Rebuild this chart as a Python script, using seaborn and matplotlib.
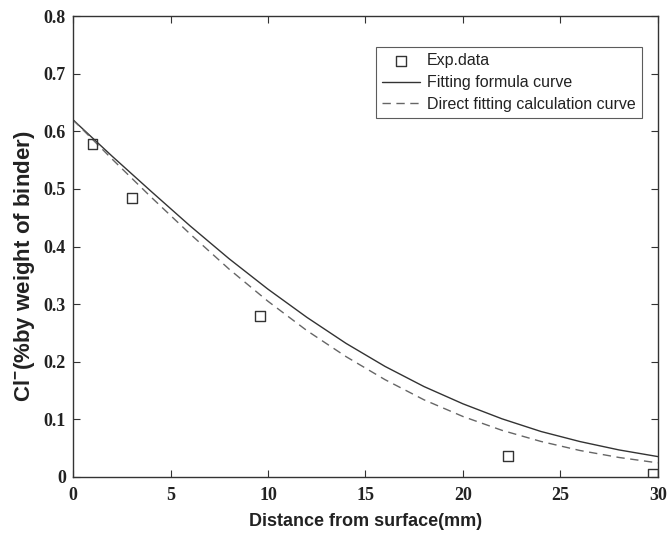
#!/usr/bin/env python3
"""Chloride profile: measured points vs two fitted curves."""

import matplotlib
matplotlib.use("Agg")
import matplotlib.pyplot as plt
import seaborn as sns

# measured chloride content
exp_x = [1.0, 3.04, 9.6, 22.3, 29.75]
exp_y = [0.578, 0.485, 0.279, 0.036, 0.005]

# curves every 2 mm
curve_x = [0, 2, 4, 6, 8, 10, 12, 14, 16, 18, 20, 22, 24, 26, 28, 30]
formula_y = [0.620, 0.557, 0.496, 0.436, 0.379, 0.326, 0.277, 0.232,
             0.192, 0.157, 0.127, 0.101, 0.079, 0.0615, 0.047, 0.0354]
direct_y = [0.620, 0.552, 0.486, 0.422, 0.361, 0.305, 0.254, 0.209,
            0.169, 0.134, 0.105, 0.081, 0.0617, 0.046, 0.0339, 0.0245]

x_ticks = [0, 5, 10, 15, 20, 25, 30]
y_ticks = [0, 0.1, 0.2, 0.3, 0.4, 0.5, 0.6, 0.7, 0.8]
y_tick_labels = ["0", "0.1", "0.2", "0.3", "0.4", "0.5", "0.6", "0.7", "0.8"]


def main() -> None:
    sns.set_style("ticks")
    plt.rcParams["font.family"] = ["Liberation Sans", "DejaVu Sans"]
    plt.rcParams["mathtext.fontset"] = "custom"
    plt.rcParams["mathtext.rm"] = "Liberation Sans:bold"
    plt.rcParams["mathtext.it"] = "Liberation Sans:bold"
    plt.rcParams["mathtext.bf"] = "Liberation Sans:bold"

    fig = plt.figure(figsize=(6.7, 5.38), dpi=100)
    ax = fig.add_axes([0.109, 0.1134, 0.873, 0.8566])

    dark = "#333333"
    sns.scatterplot(x=exp_x, y=exp_y, ax=ax, marker="s", s=50,
                    facecolor="none", edgecolor=dark, linewidth=1.0,
                    label="Exp.data", zorder=3)
    sns.lineplot(x=curve_x, y=formula_y, ax=ax, color=dark, linewidth=1.0,
                 label="Fitting formula curve")
    sns.lineplot(x=curve_x, y=direct_y, ax=ax, color="#666666", linewidth=1.0,
                 dashes=False, label="Direct fitting calculation curve")
    ax.lines[-1].set_dashes([6, 4])

    ax.set_xlim(0, 30)
    ax.set_ylim(0, 0.8)
    ax.set_xticks(x_ticks)
    ax.set_yticks(y_ticks)
    ax.set_yticklabels(y_tick_labels)
    ax.tick_params(direction="in", length=5, width=0.8, color=dark,
                   top=True, right=True, labelsize=13)
    ax.tick_params(axis="x", pad=7)
    ax.tick_params(axis="y", pad=5)
    for lab in ax.get_xticklabels() + ax.get_yticklabels():
        lab.set_fontweight("bold")
        lab.set_family(["Liberation Serif", "DejaVu Serif"])
        lab.set_color("#222222")
    for sp in ax.spines.values():
        sp.set_color(dark)
        sp.set_linewidth(1.0)

    ax.set_xlabel("Distance from surface(mm)", fontsize=13, fontweight="bold",
                  labelpad=7, color="#222222")
    ax.set_ylabel(r"Cl$^{-}$(%by weight of binder)", fontsize=16,
                  fontweight="bold", color="#222222")
    ax.yaxis.set_label_coords(-0.062, 0.458)

    leg = ax.legend(loc="upper right", bbox_to_anchor=(0.9726, 0.933),
                    borderaxespad=0, fontsize=11.5, frameon=True, fancybox=False,
                    edgecolor=dark, handlelength=2.4, handletextpad=0.4,
                    borderpad=0.4, labelspacing=0.42)
    leg.get_frame().set_linewidth(0.8)
    for t in leg.get_texts():
        t.set_color("#222222")

    fig.savefig("out.png", dpi=100)
    plt.close(fig)


if __name__ == "__main__":
    main()
